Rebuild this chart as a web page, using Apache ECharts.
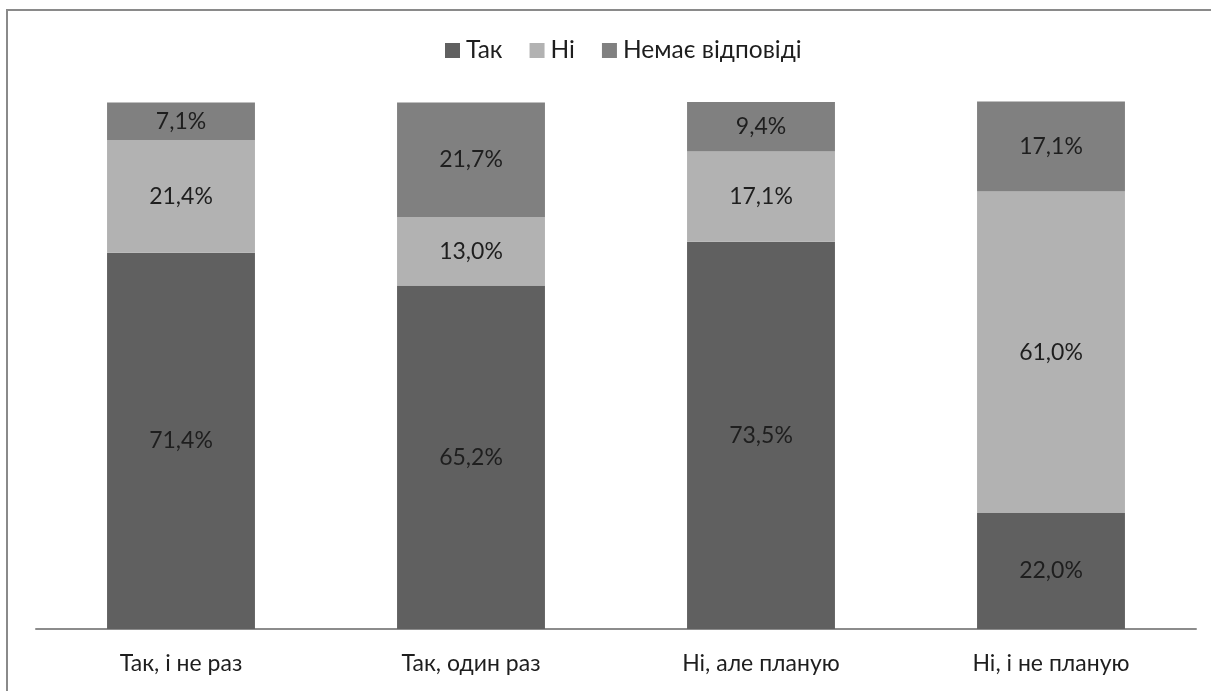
<!DOCTYPE html>
<html>
<head>
<meta charset="utf-8">
<script src="https://cdn.jsdelivr.net/npm/echarts@6/dist/echarts.min.js"></script>
<style>
  html, body { margin: 0; padding: 0; background: #fff; }
  #chart { width: 1211px; height: 691px; }
</style>
</head>
<body>
<div id="chart"></div>
<script>
// Answer groups along the x axis
const categories = ['Так, і не раз', 'Так, один раз', 'Ні, але планую', 'Ні, і не планую'];

// Shares of each answer within a group, in percent
const seriesNames = ['Так', 'Ні', 'Немає відповіді'];
const yesValues = [71.4, 65.2, 73.5, 22.0];
const noValues = [21.4, 13.0, 17.1, 61.0];
const noAnswerValues = [7.1, 21.7, 9.4, 17.1];

const colors = ['#606060', '#b2b2b2', '#808080'];
const FONT = 'Lato, "Open Sans", sans-serif';
const TEXT = '#1e1e1e';

const chart = echarts.init(document.getElementById('chart'), null, { renderer: 'canvas' });

function pct(v) {
  return v.toFixed(1).replace('.', ',') + '%';
}

function barSeries(name, data, color) {
  return {
    name: name,
    type: 'bar',
    stack: 'total',
    data: data,
    barWidth: '51%',
    clip: false,
    itemStyle: { color: color },
    label: {
      show: true,
      position: 'inside',
      color: TEXT,
      fontFamily: FONT,
      fontSize: 23,
      formatter: p => pct(p.value)
    },
    emphasis: { disabled: true }
  };
}

chart.setOption({
  animation: false,
  backgroundColor: '#fff',
  color: colors,
  graphic: [
    { type: 'line', shape: { x1: 7, y1: 10, x2: 7, y2: 700 }, style: { stroke: '#8a8a8a', lineWidth: 2 } },
    { type: 'line', shape: { x1: 6, y1: 10, x2: 1220, y2: 10 }, style: { stroke: '#8a8a8a', lineWidth: 2 } }
  ],
  legend: {
    top: 33,
    left: 440,
    itemWidth: 15,
    itemHeight: 15,
    itemGap: 27,
    icon: 'rect',
    textStyle: { fontFamily: FONT, fontSize: 24.5, color: TEXT, padding: [0, 0, 0, 1] },
    data: seriesNames
  },
  grid: { left: 36, right: 15, top: 102, bottom: 62, containLabel: false },
  xAxis: {
    type: 'category',
    data: categories,
    axisLine: { lineStyle: { color: '#8c8c8c', width: 2 } },
    axisTick: { show: false },
    axisLabel: { color: TEXT, fontFamily: FONT, fontSize: 23, margin: 23 }
  },
  yAxis: {
    type: 'value',
    min: 0,
    max: 100,
    show: false,
    splitLine: { show: false }
  },
  series: [
    barSeries(seriesNames[0], yesValues, colors[0]),
    barSeries(seriesNames[1], noValues, colors[1]),
    barSeries(seriesNames[2], noAnswerValues, colors[2])
  ]
});
</script>
</body>
</html>
